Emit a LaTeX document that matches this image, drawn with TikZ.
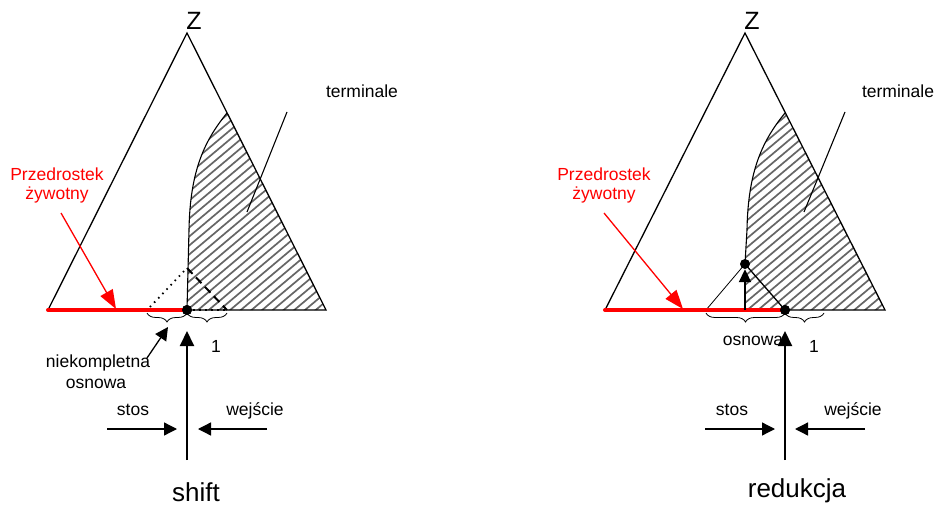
\documentclass[tikz,border=0pt]{standalone}
\usepackage{fontspec}
\setmainfont{Liberation Sans}
\usetikzlibrary{arrows.meta,decorations.pathreplacing}
\begin{document}
\begin{tikzpicture}[x=1pt,y=-1pt,
 lbl/.style={font=\fontsize{17.5}{20}\selectfont, inner sep=0pt, anchor=base},
 bigtxt/.style={font=\fontsize{26}{30}\selectfont, inner sep=0pt, anchor=base},
 zlbl/.style={font=\fontsize{25}{28}\selectfont, inner sep=0pt, anchor=base},
 tri/.style={line width=1.3pt, line join=miter},
 hatchline/.style={black!60, line width=1.7pt},
 dotn/.style={circle, fill=black, inner sep=0pt, minimum size=10pt},
 prefline/.style={red, line width=4pt, line cap=round},
 redarrow/.style={red, line width=1.3pt, -{Triangle[length=19pt,width=14pt]}},
 bigarrow/.style={line width=2pt, -{Triangle[length=15pt,width=14pt]}},
 smallarrow/.style={line width=1.3pt, -{Triangle[length=13pt,width=13pt]}},
 brc/.style={decorate, decoration={brace, mirror, amplitude=9pt}, line width=0.8pt},
]
\useasboundingbox (0,0) rectangle (938,506);

% ================= LEFT: shift =================
\coordinate (LA) at (187,33);
\coordinate (LL) at (48,310);
\coordinate (LR) at (326,310);
\begin{scope}
 \clip (227,113) .. controls (205,140) and (190,170) .. (189,230) -- (187,310) -- (LR) -- cycle;
 \foreach \i in {0,...,45} { \draw[hatchline] (-60+\i*10.7,320) -- ++(300,-252); }
\end{scope}
\draw[tri] (LL) -- (LA) -- (LR) -- cycle;
\draw[line width=1.1pt] (227,113) .. controls (205,140) and (190,170) .. (189,230) -- (187,310);
\node[zlbl] (Z1) at (194,30) {Z};
\node[lbl] (T1) at (362,97) {terminale};
\coordinate (T1a) at (287,112);
\coordinate (T1b) at (247,212);
\draw[line width=1.1pt] (T1a) -- (T1b);

\node[dotn] (D1) at (187,310) {};
\draw[prefline] (LL) -- (D1.center);
\node[dotn] at (D1.center) {};
\draw[dash pattern=on 1.5pt off 4.5pt, line width=1.6pt] (D1.center) -- (227,310);
\draw[dash pattern=on 1.5pt off 4.5pt, line width=1.8pt] (150,307) -- (187,268);
\draw[dash pattern=on 8pt off 5pt, line width=2pt] (187,268) -- (227,310);

\node[lbl, red] (P1) at (57,180) {Przedrostek};
\node[lbl, red] (P1b) at (57,199) {żywotny};
\coordinate (P1s) at (61,213);
\coordinate (P1e) at (116,309);
\draw[redarrow] (P1s) -- (P1e);

\draw[brc] (147,313) -- (187,313);
\draw[brc] (187,313) -- (227,313);
\node[lbl] (O1) at (216,352) {1};

\node[lbl] (N1) at (98,367) {niekompletna};
\node[lbl] (N1b) at (96,388) {osnowa};
\coordinate (N1s) at (147,358);
\coordinate (N1e) at (168,327);
\draw[smallarrow] (N1s) -- (N1e);

\coordinate (V1s) at (187,460);
\coordinate (V1e) at (187,331);
\draw[bigarrow] (V1s) -- (V1e);

\node[lbl] (S1) at (133,415) {stos};
\node[lbl] (W1) at (255,415) {wejście};
\coordinate (S1s) at (107,429);
\coordinate (S1e) at (177,429);
\coordinate (W1s) at (267,429);
\coordinate (W1e) at (198,429);
\draw[smallarrow] (S1s) -- (S1e);
\draw[smallarrow] (W1s) -- (W1e);
\node[bigtxt] (SH) at (196,501) {shift};

% ================= RIGHT: redukcja =================
\coordinate (RA) at (745,33);
\coordinate (RL) at (605,310);
\coordinate (RR) at (885,310);
\begin{scope}
 \clip (785,113) .. controls (763,140) and (748,170) .. (747,230) -- (746,264) -- (746,310) -- (RR) -- cycle;
 \foreach \i in {0,...,45} { \draw[hatchline] (500+\i*10.7,320) -- ++(300,-252); }
\end{scope}
\draw[tri] (RL) -- (RA) -- (RR) -- cycle;
\draw[line width=1.1pt] (785,113) .. controls (763,140) and (748,170) .. (747,230) -- (745,264);
\node[zlbl] (Z2) at (752,30) {Z};
\node[lbl] (T2) at (898,97) {terminale};
\coordinate (T2a) at (845,112);
\coordinate (T2b) at (804,212);
\draw[line width=1.1pt] (T2a) -- (T2b);

\node[dotn] (D2) at (785,310) {};
\node[dotn] (D3) at (745,264) {};
\draw[line width=0.8pt] (706,310) -- (D3.center);
\draw[line width=1.3pt] (D3.center) -- (D2.center);
\draw[prefline] (RL) -- (D2.center);
\node[dotn] at (D2.center) {};
\coordinate (U2s) at (745,310);
\draw[line width=2pt, -{Triangle[length=13pt,width=12pt]}] (U2s) -- (D3.south);

\node[lbl, red] (P2) at (604,180) {Przedrostek};
\node[lbl, red] (P2b) at (604,199) {żywotny};
\coordinate (P2s) at (604,213);
\coordinate (P2e) at (683,309);
\draw[redarrow] (P2s) -- (P2e);

\draw[brc] (706,313) -- (785,313);
\draw[brc] (785,313) -- (824,313);
\node[lbl] (O2) at (814,352) {1};
\node[lbl] (N2) at (753,345) {osnowa};

\coordinate (V2s) at (785,460);
\coordinate (V2e) at (785,331);
\draw[bigarrow] (V2s) -- (V2e);

\node[lbl] (S2) at (732,415) {stos};
\node[lbl] (W2) at (853,415) {wejście};
\coordinate (S2s) at (705,429);
\coordinate (S2e) at (775,429);
\coordinate (W2s) at (865,429);
\coordinate (W2e) at (795,429);
\draw[smallarrow] (S2s) -- (S2e);
\draw[smallarrow] (W2s) -- (W2e);
\node[bigtxt] (RD) at (797,497) {redukcja};
\end{tikzpicture}
\end{document}
